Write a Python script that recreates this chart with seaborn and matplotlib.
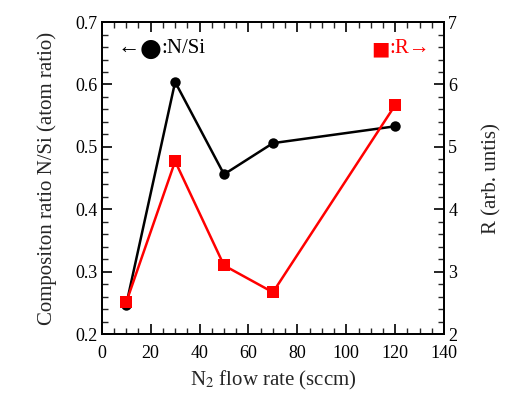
import numpy as np
import pandas as pd
import matplotlib
matplotlib.use("Agg")
import matplotlib.pyplot as plt
from matplotlib.ticker import MultipleLocator
import seaborn as sns

# data
flow_rate = [10, 30, 50, 70, 120]
n_si_ratio = [0.247, 0.604, 0.456, 0.506, 0.533]
r_value = [2.51, 4.77, 3.10, 2.67, 5.67]

df = pd.DataFrame({"flow": flow_rate, "nsi": n_si_ratio, "r": r_value})

sns.set_theme(style="ticks")
plt.rcParams["font.family"] = ["Liberation Serif", "DejaVu Serif"]
plt.rcParams["mathtext.fontset"] = "stix"
plt.rcParams["xtick.direction"] = "in"
plt.rcParams["ytick.direction"] = "in"

fig = plt.figure(figsize=(5.14, 3.94), dpi=100)
ax = fig.add_axes([0.198, 0.152, 0.666, 0.792])
ax2 = ax.twinx()

sns.lineplot(data=df, x="flow", y="nsi", ax=ax, color="black", lw=1.8,
             marker="o", markersize=7.5, markeredgewidth=0)
sns.lineplot(data=df, x="flow", y="r", ax=ax2, color="#ff0000", lw=1.8,
             marker="s", markersize=8.5, markeredgewidth=0)

ax.set_xlim(0, 140)
ax.set_ylim(0.2, 0.7)
ax2.set_ylim(2, 7)
ax.xaxis.set_major_locator(MultipleLocator(20))
ax.xaxis.set_minor_locator(MultipleLocator(5))
ax.yaxis.set_major_locator(MultipleLocator(0.1))
ax.yaxis.set_minor_locator(MultipleLocator(0.02))
ax2.yaxis.set_major_locator(MultipleLocator(1))
ax2.yaxis.set_minor_locator(MultipleLocator(0.2))

for a in (ax, ax2):
    a.tick_params(which="major", length=7, width=1.2, labelsize=13, colors="black")
    a.tick_params(which="minor", length=4, width=1.0)
    for s in a.spines.values():
        s.set_linewidth(1.3)
        s.set_color("black")
ax.tick_params(axis="x", which="both", top=True)
ax.tick_params(axis="x", pad=8)
ax.tick_params(axis="y", pad=3)
ax2.tick_params(axis="y", pad=3)

ax.set_xlabel("N$_2$ flow rate (sccm)", fontsize=15, labelpad=5)
ax.set_ylabel("Compositon ratio N/Si (atom ratio)", fontsize=15, labelpad=13)
ax2.set_ylabel("R (arb. untis)", fontsize=15, labelpad=18)

# in-plot series labels
fam = ["Liberation Serif", "DejaVu Sans"]
t1 = ax.text(0.045, 0.915, "\u2190", transform=ax.transAxes, fontsize=16,
             color="black", va="center", family=fam)
t2 = ax.annotate("\u25cf", xy=(1, 0.5), xycoords=t1, fontsize=18, va="center",
                 color="black", family=["DejaVu Sans"])
ax.annotate(":N/Si", xy=(1, 0.5), xycoords=t2, fontsize=15, va="center",
            color="black", family=fam)
t3 = ax.text(0.96, 0.915, ":R\u2192", transform=ax.transAxes, fontsize=15,
             color="#ff0000", va="center", ha="right", family=fam)
ax.annotate("\u25a0", xy=(0, 0.5), xycoords=t3, fontsize=14, va="center", ha="right",
            color="#ff0000", family=["DejaVu Sans"])

fig.savefig("out.png", dpi=100)
